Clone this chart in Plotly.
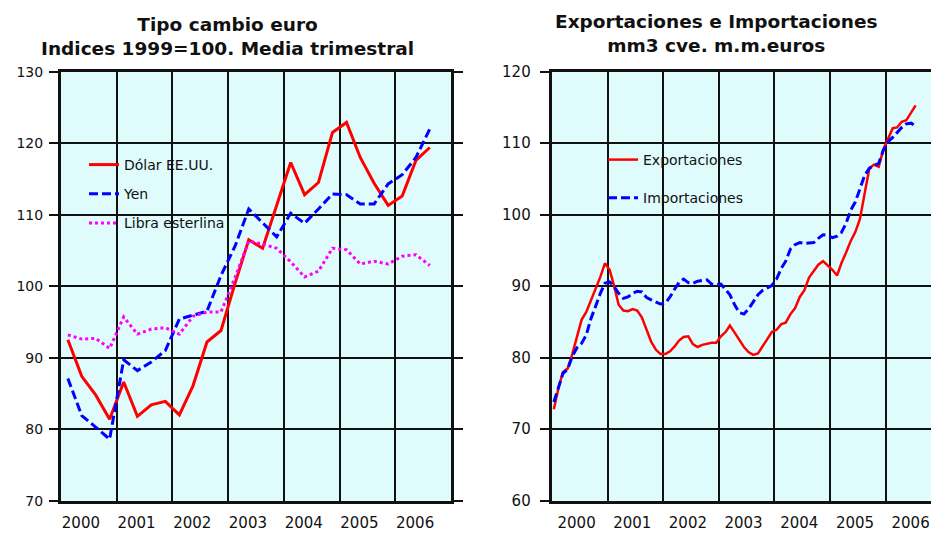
import pandas as pd
import plotly.graph_objects as go

# Tipo de cambio del euro, indices 1999=100, media trimestral (2000T1 - 2006T3)
trimestres = pd.period_range("2000Q1", "2006Q3", freq="Q")
dolar = [92.5, 87.4, 84.8, 81.4, 86.6, 81.8, 83.4, 83.9, 82.0, 86.1, 92.2, 93.8,
         100.4, 106.5, 105.3, 111.3, 117.3, 112.8, 114.5, 121.5, 122.9, 118.0,
         114.4, 111.3, 112.6, 117.6, 119.4]
yen = [87.1, 81.9, 80.3, 78.6, 89.7, 88.2, 89.4, 91.0, 95.4, 95.9, 96.5, 101.5,
       105.6, 110.8, 108.8, 106.9, 110.2, 108.8, 110.8, 112.9, 112.8, 111.5,
       111.5, 114.3, 115.6, 118.0, 122.0]
libra = [93.2, 92.6, 92.7, 91.3, 95.7, 93.3, 94.0, 94.2, 93.3, 95.8, 96.4, 96.4,
         101.2, 106.3, 105.9, 105.3, 103.4, 101.3, 102.1, 105.3, 105.1, 103.1,
         103.5, 103.1, 104.2, 104.4, 102.9]

# Exportaciones e importaciones, mm3 cve, m.m. euros (ene 2000 - jul 2006)
meses = pd.period_range("2000-01", "2006-07", freq="M")
exportaciones = [72.8, 75.8, 78.0, 78.5, 80.5, 83.0, 85.3, 86.4, 88.0, 89.7, 91.3, 93.2,
                 92.3, 89.9, 87.4, 86.6, 86.5, 86.8, 86.6, 85.6, 83.8, 82.2, 81.1, 80.5,
                 80.5, 80.9, 81.5, 82.4, 82.9, 83.0, 81.9, 81.5, 81.8, 82.0, 82.1, 82.1,
                 83.0, 83.6, 84.5, 83.5, 82.5, 81.5, 80.8, 80.4, 80.6, 81.5, 82.6, 83.6,
                 83.9, 84.7, 84.9, 86.1, 86.9, 88.5, 89.4, 91.2, 92.1, 93.0, 93.5, 92.9,
                 92.3, 91.5, 93.2, 94.7, 96.3, 97.6, 99.4, 103.0, 106.5, 107.0, 106.7, 109.1,
                 110.6, 112.1, 112.2, 113.0, 113.2, 114.3, 115.3]
importaciones = [73.8, 76.0, 77.8, 78.4, 80.2, 81.4, 82.0, 83.2, 85.5, 87.2, 89.0, 90.4,
                 90.6, 89.9, 89.0, 88.3, 88.5, 89.0, 89.3, 89.2, 88.4, 88.1, 87.8, 87.5,
                 87.6, 88.5, 89.5, 90.5, 91.0, 90.5, 90.4, 90.7, 90.8, 90.9, 90.3, 90.2,
                 90.3, 89.5, 88.8, 87.4, 86.3, 86.1, 86.8, 87.8, 88.8, 89.4, 89.7, 90.1,
                 91.0, 92.5, 93.5, 95.2, 95.8, 96.1, 96.0, 96.0, 96.1, 96.7, 97.2, 97.1,
                 96.8, 97.0, 97.5, 98.8, 100.6, 101.8, 103.5, 105.5, 106.5, 106.8, 107.2, 109.0,
                 110.2, 110.8, 111.5, 112.2, 112.7, 112.8, 112.4]

FONT = "DejaVu Sans"
BG = "#DFFBFB"
INK = "#111111"

x_trim = trimestres.start_time + pd.Timedelta(days=45)
x_mes = meses.start_time + pd.Timedelta(days=14)

fig = go.Figure()

# panel izquierdo
fig.add_trace(go.Scatter(x=x_trim, y=dolar, name="Dólar EE.UU.", mode="lines",
                         line=dict(color="#FF0000", width=3),
                         legend="legend", legendgroup="a"))
fig.add_trace(go.Scatter(x=x_trim, y=yen, name="Yen", mode="lines",
                         line=dict(color="#0000FF", width=3, dash="9px,4px"),
                         legend="legend", legendgroup="b"))
fig.add_trace(go.Scatter(x=x_trim, y=libra, name="Libra esterlina", mode="lines",
                         line=dict(color="#FF00FF", width=3, dash="3px,3px"),
                         legend="legend", legendgroup="c"))

# panel derecho
fig.add_trace(go.Scatter(x=x_mes, y=exportaciones, name="Exportaciones", mode="lines",
                         line=dict(color="#FF0000", width=2.5),
                         xaxis="x2", yaxis="y2", legend="legend2", legendgroup="d"))
fig.add_trace(go.Scatter(x=x_mes, y=importaciones, name="Importaciones", mode="lines",
                         line=dict(color="#0000FF", width=3, dash="9px,4px"),
                         xaxis="x2", yaxis="y2", legend="legend2", legendgroup="e"))

# etiqueta del año a mitad de año, rejilla en los cambios de año
xcommon = dict(type="date", tick0="2000-07-02", dtick="M12", tickformat="%Y",
               showgrid=False, ticks="",
               minor=dict(tick0="2000-01-01", dtick="M12", showgrid=True,
                          gridcolor=INK, gridwidth=1.5, ticks=""),
               showline=True, linecolor=INK, linewidth=2.5,
               automargin=False, zeroline=False, ticklabelstandoff=7,
               tickfont=dict(family=FONT, size=15, color=INK))
ycommon = dict(dtick=10, showgrid=True, gridcolor=INK, gridwidth=1.5,
               showline=True, linecolor=INK, linewidth=3, zeroline=False,
               automargin=False, ticks="outside", ticklen=9, tickwidth=2, tickcolor=INK)

fig.update_layout(
    template="none",
    width=931, height=533,
    margin=dict(l=0, r=0, t=0, b=0, autoexpand=False),
    paper_bgcolor="white",
    plot_bgcolor=BG,
    showlegend=True,
    xaxis=dict(xcommon, domain=[61 / 931, 451 / 931], range=["2000-01-01", "2007-01-01"],
               mirror=True, anchor="y", ticklabelshift=-8),
    yaxis=dict(ycommon, domain=[0.0606, 0.8655], range=[70, 130], mirror="ticks",
               anchor="x", ticklabelstandoff=3,
               tickfont=dict(family=FONT, size=14, color=INK)),
    xaxis2=dict(xcommon, domain=[551.7 / 931, 1.0], range=["2000-01-01", "2006-10-24"],
                mirror=True, anchor="y2", ticklabelshift=-3),
    yaxis2=dict(ycommon, domain=[0.0606, 0.8655], range=[60, 120], anchor="x2",
                ticklabelstandoff=6,
                tickfont=dict(family=FONT, size=15, color=INK)),
    legend=dict(x=84 / 931, y=1 - 149 / 533, xanchor="left", yanchor="top",
                bgcolor="rgba(0,0,0,0)", borderwidth=0, tracegroupgap=8,
                font=dict(family=FONT, size=14, color=INK)),
    legend2=dict(x=603 / 931, y=1 - 144 / 533, xanchor="left", yanchor="top",
                 bgcolor="rgba(0,0,0,0)", borderwidth=0, tracegroupgap=17,
                 font=dict(family=FONT, size=14, color=INK)),
    annotations=[
        dict(text="<b>Tipo cambio euro<br>Indices 1999=100. Media trimestral</b>",
             x=227 / 931, y=1 - 12 / 533, xref="paper", yref="paper",
             xanchor="center", yanchor="top", showarrow=False,
             font=dict(family=FONT, size=18.5, color=INK)),
        dict(text="<b>Exportaciones e Importaciones<br>mm3 cve. m.m.euros</b>",
             x=716 / 931, y=1 - 9 / 533, xref="paper", yref="paper",
             xanchor="center", yanchor="top", showarrow=False,
             font=dict(family=FONT, size=18.5, color=INK)),
    ],
)

# sin margen del <body> para que la figura ocupe la ventana exacta
fig.write_html("out.html", config={"displayModeBar": False},
               post_script="document.body.style.margin='0';")
